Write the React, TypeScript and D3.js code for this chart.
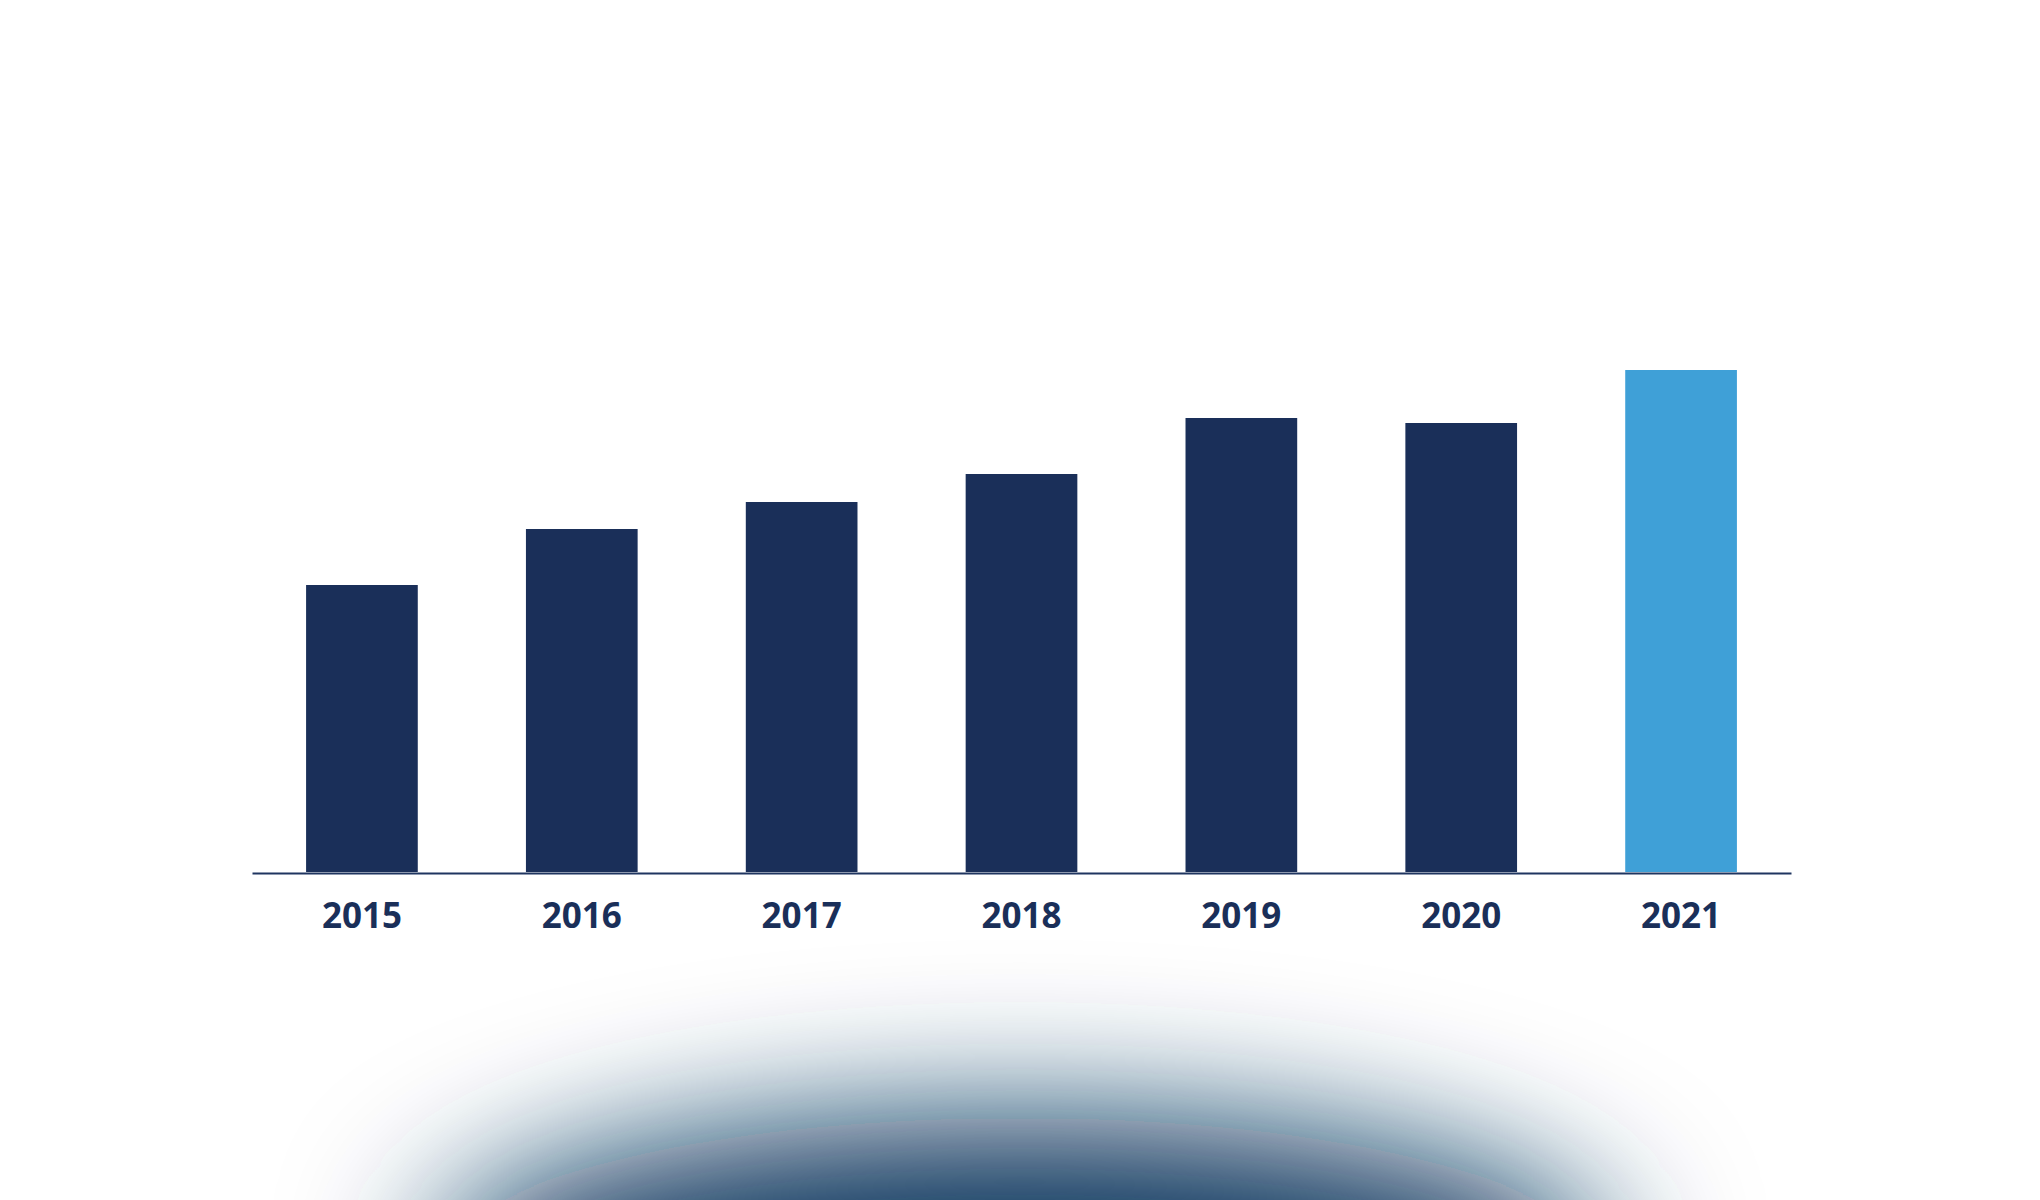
import React, { useEffect, useRef } from 'react';
import * as d3 from 'd3';

const years: Array<string> = ['2015', '2016', '2017', '2018', '2019', '2020', '2021'];
const values: Array<number> = [287, 343, 370, 398, 454, 449, 502];
const highlightYear = '2021';

const width = 2040;
const height = 1200;

const navy = '#1a2f59';
const lightBlue = '#3fa0d7';

const App = () => {
  const ref = useRef<SVGSVGElement>(null);

  useEffect(() => {
    if (!ref.current) return;
    const svg = d3.select(ref.current);
    svg.selectAll('*').remove();

    const xScale = d3
      .scaleBand<string>()
      .domain(years)
      .range([252, 1791])
      .paddingInner(0.492)
      .paddingOuter(0.246);

    const yScale = d3.scaleLinear().domain([0, 600]).range([872, 272]);

    // blurred dome at the bottom
    const defs = svg.append('defs');
    defs
      .append('filter')
      .attr('id', 'blur')
      .attr('filterUnits', 'userSpaceOnUse')
      .attr('x', 0)
      .attr('y', 600)
      .attr('width', width)
      .attr('height', 900)
      .append('feGaussianBlur')
      .attr('stdDeviation', 75);
    defs
      .append('clipPath')
      .attr('id', 'glowClip')
      .append('rect')
      .attr('x', 221)
      .attr('y', 700)
      .attr('width', 1599)
      .attr('height', 500);

    svg
      .append('g')
      .attr('clip-path', 'url(#glowClip)')
      .append('ellipse')
      .attr('cx', 1020)
      .attr('cy', 1274)
      .attr('rx', 590)
      .attr('ry', 156)
      .attr('fill', '#10385e')
      .attr('filter', 'url(#blur)');

    svg
      .append('g')
      .selectAll('rect')
      .data(years)
      .join('rect')
      .attr('x', d => xScale(d) as number)
      .attr('width', xScale.bandwidth())
      .attr('y', (d, i) => yScale(values[i]))
      .attr('height', (d, i) => yScale(0) - yScale(values[i]))
      .attr('fill', d => (d === highlightYear ? lightBlue : navy));

    const axis = svg
      .append('g')
      .attr('transform', `translate(0, ${yScale(0) + 1})`)
      .call(d3.axisBottom(xScale).tickSize(0).tickPadding(55).tickSizeOuter(0));

    axis.select('.domain').attr('stroke', '#1f3560').attr('stroke-width', 2);
    axis
      .selectAll('text')
      .attr('fill', navy)
      .attr('font-family', '"Open Sans", sans-serif')
      .attr('font-weight', 700)
      .attr('font-size', 35)
      .attr('dy', 0);
  }, []);

  return (
    <svg
      ref={ref}
      width={width}
      height={height}
      style={{ position: 'absolute', left: 0, top: 0, background: '#ffffff' }}
    />
  );
};

export default App;
